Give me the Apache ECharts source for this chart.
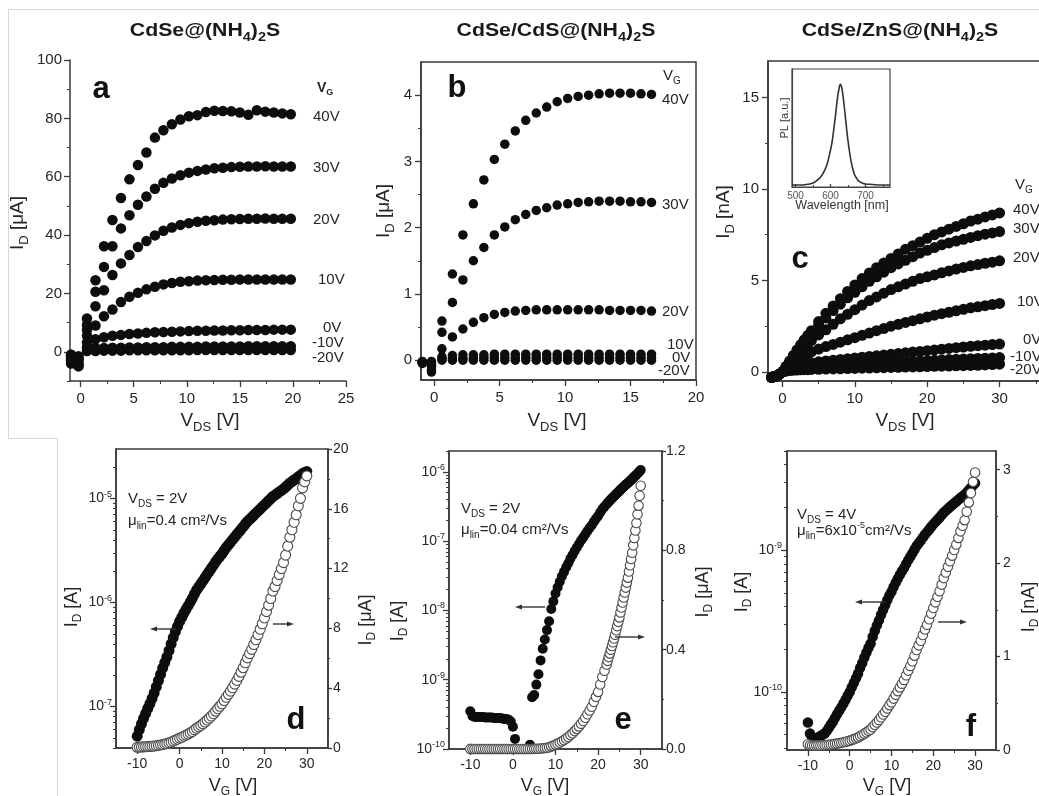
<!DOCTYPE html>
<html><head><meta charset="utf-8">
<script src="https://cdn.jsdelivr.net/npm/echarts@6/dist/echarts.min.js"></script>
<style>html,body{margin:0;padding:0;background:#fff}#c{width:1039px;height:796px}</style>
</head><body><div id="c"></div><script>
// ---------------- DATA ----------------
// Panel a: CdSe@(NH4)2S output curves, I_D [uA] vs V_DS [V]
const aVDS = [-0.9, -0.2, 0.6, 1.4, 2.2, 3.0, 3.8, 4.6, 5.4, 6.2, 7.0, 7.8, 8.6, 9.4, 10.2, 11.0, 11.8, 12.6, 13.4, 14.2, 15.0, 15.8, 16.6, 17.4, 18.2, 19.0, 19.8];
const aID_40 = [-1, -4, 11.4, 24.5, 36.2, 45.2, 52.7, 59.1, 64.0, 68.3, 73.4, 75.9, 78.0, 79.6, 80.7, 81.1, 82.2, 82.6, 82.5, 82.4, 82.0, 81.2, 82.8, 82.3, 82.0, 81.7, 81.4];
const aID_30 = [-2, -4.5, 9.2, 20.6, 29.1, 36.2, 42.3, 46.8, 50.4, 53.2, 55.9, 57.9, 59.4, 60.5, 61.4, 62.0, 62.5, 62.9, 63.1, 63.3, 63.4, 63.5, 63.5, 63.6, 63.5, 63.5, 63.5];
const aID_20 = [-2.5, -3, 7.5, 15.6, 21.1, 26.3, 30.3, 33.2, 35.9, 38.0, 39.9, 41.5, 42.6, 43.5, 44.1, 44.6, 44.9, 45.1, 45.3, 45.4, 45.5, 45.6, 45.6, 45.7, 45.6, 45.6, 45.6];
const aID_10 = [-1.5, -2, 5.5, 9.0, 12.2, 14.5, 17.1, 18.9, 20.2, 21.4, 22.3, 23.1, 23.6, 24.0, 24.2, 24.4, 24.5, 24.6, 24.7, 24.7, 24.8, 24.8, 24.8, 24.8, 24.8, 24.8, 24.8];
const aID_0 = [-1, -1.5, 3.2, 4.3, 5.0, 5.5, 5.8, 6.1, 6.3, 6.5, 6.7, 6.8, 6.9, 7.0, 7.1, 7.2, 7.2, 7.3, 7.3, 7.4, 7.4, 7.5, 7.5, 7.5, 7.6, 7.6, 7.6];
const aID_m10 = [-3, -2.5, 1.5, 1.3, 1.3, 1.4, 1.4, 1.5, 1.5, 1.6, 1.6, 1.6, 1.7, 1.7, 1.7, 1.7, 1.8, 1.8, 1.8, 1.8, 1.8, 1.9, 1.9, 1.9, 1.9, 1.9, 1.9];
const aID_m20 = [-4, -5, 0.3, 0.3, 0.4, 0.4, 0.4, 0.5, 0.5, 0.5, 0.5, 0.5, 0.5, 0.5, 0.5, 0.6, 0.6, 0.6, 0.6, 0.6, 0.6, 0.6, 0.6, 0.6, 0.6, 0.6, 0.6];
const aGateLabels = ['40V', '30V', '20V', '10V', '0V', '-10V', '-20V'];

// Panel b: CdSe/CdS@(NH4)2S, I_D [uA]
const bVDS = [-0.9, -0.2, 0.6, 1.4, 2.2, 3.0, 3.8, 4.6, 5.4, 6.2, 7.0, 7.8, 8.6, 9.4, 10.2, 11.0, 11.8, 12.6, 13.4, 14.2, 15.0, 15.8, 16.6];
const bID_40 = [-0.04, -0.18, 0.59, 1.30, 1.89, 2.36, 2.72, 3.03, 3.26, 3.46, 3.62, 3.73, 3.82, 3.90, 3.95, 3.98, 4.00, 4.02, 4.03, 4.03, 4.03, 4.02, 4.01];
const bID_30 = [-0.04, -0.15, 0.42, 0.87, 1.21, 1.50, 1.70, 1.89, 2.01, 2.12, 2.20, 2.26, 2.30, 2.34, 2.36, 2.38, 2.39, 2.40, 2.40, 2.40, 2.39, 2.39, 2.38];
const bID_20 = [-0.03, -0.10, 0.17, 0.35, 0.47, 0.57, 0.64, 0.69, 0.72, 0.74, 0.75, 0.76, 0.76, 0.76, 0.76, 0.76, 0.76, 0.76, 0.75, 0.75, 0.75, 0.75, 0.74];
const bID_10 = [-0.02, -0.05, 0.05, 0.07, 0.08, 0.08, 0.08, 0.09, 0.09, 0.09, 0.09, 0.09, 0.09, 0.09, 0.09, 0.09, 0.09, 0.09, 0.09, 0.09, 0.09, 0.09, 0.09];
const bID_0 = [-0.03, -0.08, 0.02, 0.03, 0.03, 0.03, 0.04, 0.04, 0.04, 0.04, 0.04, 0.04, 0.04, 0.04, 0.04, 0.04, 0.04, 0.04, 0.04, 0.04, 0.04, 0.04, 0.04];
const bID_m20 = [-0.05, -0.02, 0.0, 0.0, 0.0, 0.0, 0.0, 0.0, 0.0, 0.0, 0.0, 0.0, 0.0, 0.0, 0.0, 0.0, 0.0, 0.0, 0.0, 0.0, 0.0, 0.0, 0.0];
const bGateLabels = ['40V', '30V', '20V', '10V', '0V', '-20V'];

// Panel c: CdSe/ZnS@(NH4)2S, I_D [nA]
const cVDS = [-1.5, -1, -0.5, 0, 0.5, 1, 1.5, 2, 2.5, 3, 3.5, 4, 5, 6, 7, 8, 9, 10, 11, 12, 13, 14, 15, 16, 17, 18, 19, 20, 21, 22, 23, 24, 25, 26, 27, 28, 29, 30];
const cID_40 = [-0.3, -0.25, -0.15, 0, 0.3, 0.6, 0.9, 1.2, 1.48, 1.75, 2.0, 2.25, 2.75, 3.2, 3.6, 4.0, 4.4, 4.75, 5.1, 5.4, 5.7, 5.95, 6.2, 6.45, 6.7, 6.9, 7.1, 7.3, 7.5, 7.65, 7.8, 7.95, 8.1, 8.25, 8.35, 8.47, 8.58, 8.69];
const cID_30 = [-0.3, -0.25, -0.15, 0, 0.28, 0.55, 0.83, 1.1, 1.35, 1.6, 1.85, 2.1, 2.55, 2.95, 3.35, 3.7, 4.05, 4.35, 4.65, 4.95, 5.2, 5.45, 5.7, 5.9, 6.1, 6.3, 6.5, 6.65, 6.8, 6.95, 7.05, 7.15, 7.25, 7.35, 7.45, 7.53, 7.6, 7.67];
const cID_20 = [-0.3, -0.25, -0.15, 0, 0.25, 0.5, 0.72, 0.95, 1.15, 1.35, 1.55, 1.72, 2.02, 2.3, 2.6, 2.9, 3.15, 3.4, 3.65, 3.9, 4.1, 4.3, 4.5, 4.65, 4.8, 4.95, 5.1, 5.2, 5.3, 5.42, 5.52, 5.62, 5.71, 5.8, 5.87, 5.94, 6.0, 6.07];
const cID_10 = [-0.3, -0.25, -0.15, 0, 0.2, 0.38, 0.52, 0.65, 0.78, 0.9, 1.0, 1.1, 1.25, 1.38, 1.5, 1.62, 1.75, 1.87, 2.0, 2.12, 2.25, 2.37, 2.5, 2.6, 2.7, 2.8, 2.9, 3.0, 3.1, 3.18, 3.26, 3.34, 3.42, 3.5, 3.56, 3.62, 3.68, 3.74];
const cID_0 = [-0.3, -0.25, -0.15, 0, 0.12, 0.22, 0.3, 0.36, 0.41, 0.45, 0.48, 0.5, 0.55, 0.6, 0.64, 0.68, 0.72, 0.76, 0.8, 0.84, 0.88, 0.92, 0.96, 1.0, 1.04, 1.08, 1.12, 1.16, 1.2, 1.24, 1.28, 1.32, 1.36, 1.4, 1.43, 1.46, 1.49, 1.52];
const cID_m10 = [-0.3, -0.25, -0.15, 0, 0.08, 0.15, 0.2, 0.24, 0.27, 0.29, 0.31, 0.32, 0.34, 0.36, 0.38, 0.4, 0.42, 0.44, 0.45, 0.47, 0.49, 0.5, 0.52, 0.54, 0.56, 0.58, 0.6, 0.61, 0.63, 0.65, 0.67, 0.69, 0.7, 0.72, 0.73, 0.75, 0.76, 0.78];
const cID_m20 = [-0.3, -0.25, -0.15, 0, 0.04, 0.07, 0.09, 0.1, 0.11, 0.12, 0.12, 0.13, 0.14, 0.15, 0.16, 0.17, 0.18, 0.19, 0.2, 0.21, 0.22, 0.23, 0.24, 0.25, 0.26, 0.27, 0.28, 0.29, 0.3, 0.31, 0.32, 0.33, 0.34, 0.35, 0.36, 0.38, 0.4, 0.42];
const cGateLabels = ['40V', '30V', '20V', '10V', '0V', '-10V', '-20V'];

// Inset: PL spectrum
const plWavelength = [490, 500, 520, 540, 550, 560, 570, 580, 590, 600, 605, 610, 615, 620, 625, 628, 632, 636, 640, 645, 650, 655, 660, 665, 670, 680, 690, 700, 720, 740, 770];
const plIntensity = [0.02, 0.02, 0.02, 0.03, 0.04, 0.06, 0.09, 0.14, 0.22, 0.36, 0.45, 0.58, 0.72, 0.87, 0.97, 1.0, 0.97, 0.88, 0.76, 0.6, 0.45, 0.33, 0.23, 0.16, 0.11, 0.06, 0.04, 0.03, 0.025, 0.02, 0.02];

// Transfer curves (d, f): V_G [V]
const transferVG = [-10, -9.5, -9, -8.5, -8, -7.5, -7, -6.5, -6, -5.5, -5, -4.5, -4, -3.5, -3, -2.5, -2, -1.5, -1, -0.5, 0, 0.5, 1, 1.5, 2, 2.5, 3, 3.5, 4, 4.5, 5, 5.5, 6, 6.5, 7, 7.5, 8, 8.5, 9, 9.5, 10, 10.5, 11, 11.5, 12, 12.5, 13, 13.5, 14, 14.5, 15, 15.5, 16, 16.5, 17, 17.5, 18, 18.5, 19, 19.5, 20, 20.5, 21, 21.5, 22, 22.5, 23, 23.5, 24, 24.5, 25, 25.5, 26, 26.5, 27, 27.5, 28, 28.5, 29, 29.5, 30];
// d: I_D in microampere
const dID_uA = [0.052, 0.060, 0.068, 0.077, 0.086, 0.096, 0.107, 0.120, 0.135, 0.155, 0.178, 0.204, 0.234, 0.265, 0.30, 0.345, 0.40, 0.46, 0.525, 0.59, 0.66, 0.72, 0.79, 0.86, 0.93, 1.01, 1.10, 1.21, 1.32, 1.41, 1.51, 1.62, 1.74, 1.87, 2.00, 2.14, 2.29, 2.46, 2.63, 2.79, 2.95, 3.17, 3.39, 3.59, 3.80, 4.03, 4.27, 4.52, 4.79, 5.07, 5.37, 5.70, 6.03, 6.31, 6.60, 6.92, 7.24, 7.58, 7.94, 8.31, 8.70, 9.12, 9.55, 10.0, 10.5, 10.8, 11.2, 11.6, 12.0, 12.4, 12.9, 13.5, 14.1, 14.6, 15.1, 15.6, 16.2, 16.7, 17.4, 17.8, 18.2];
// e: V_G [V] (denser sweep above 22 V) and I_D in ampere
const eVG = [-10, -9.5, -9, -8.5, -8, -7.5, -7, -6.5, -6, -5.5, -5, -4.5, -4, -3.5, -3, -2.5, -2, -1.5, -1, -0.5, 0, 0.5, 1, 1.5, 2, 2.5, 3, 3.5, 4, 4.5, 5, 5.5, 6, 6.5, 7, 7.5, 8, 8.5, 9, 9.5, 10, 10.5, 11, 11.5, 12, 12.5, 13, 13.5, 14, 14.5, 15, 15.5, 16, 16.5, 17, 17.5, 18, 18.5, 19, 19.5, 20, 20.5, 21, 21.5, 22, 22.25, 22.5, 22.75, 23, 23.25, 23.5, 23.75, 24, 24.25, 24.5, 24.75, 25, 25.25, 25.5, 25.75, 26, 26.25, 26.5, 26.75, 27, 27.25, 27.5, 27.75, 28, 28.25, 28.5, 28.75, 29, 29.25, 29.5, 29.75, 30];
const eID_A = [3.5e-10, 3.0e-10, 2.9e-10, 2.9e-10, 2.9e-10, 2.9e-10, 2.9e-10, 2.85e-10, 2.85e-10, 2.85e-10, 2.85e-10, 2.8e-10, 2.8e-10, 2.8e-10, 2.8e-10, 2.75e-10, 2.7e-10, 2.7e-10, 2.65e-10, 2.5e-10, 2.1e-10, 1.4e-10, 8e-11, 7e-11, 7e-11, 7e-11, 7e-11, 8e-11, 1.15e-10, 5.6e-10, 6.0e-10, 8.5e-10, 1.2e-9, 1.9e-9, 2.8e-9, 3.8e-9, 5.2e-9, 7.0e-9, 1.05e-8, 1.35e-8, 1.75e-8, 2.15e-8, 2.6e-8, 3.1e-8, 3.6e-8, 4.2e-8, 4.8e-8, 5.6e-8, 6.3e-8, 7.2e-8, 8.1e-8, 9.1e-8, 1.02e-7, 1.13e-7, 1.26e-7, 1.4e-7, 1.55e-7, 1.7e-7, 1.9e-7, 2.1e-7, 2.3e-7, 2.6e-7, 2.9e-7, 3.15e-7, 3.4e-7, 3.55e-7, 3.7e-7, 3.85e-7, 4.0e-7, 4.15e-7, 4.3e-7, 4.45e-7, 4.6e-7, 4.78e-7, 4.95e-7, 5.12e-7, 5.3e-7, 5.5e-7, 5.7e-7, 5.9e-7, 6.1e-7, 6.3e-7, 6.5e-7, 6.7e-7, 6.9e-7, 7.15e-7, 7.4e-7, 7.65e-7, 7.9e-7, 8.2e-7, 8.5e-7, 8.8e-7, 9.1e-7, 9.45e-7, 9.8e-7, 1.02e-6, 1.06e-6];
// f: I_D in ampere
const fID_A = [6.1e-11, 5.1e-11, 4.8e-11, 4.7e-11, 4.7e-11, 4.8e-11, 4.9e-11, 5.0e-11, 5.1e-11, 5.3e-11, 5.6e-11, 5.9e-11, 6.2e-11, 6.6e-11, 7.0e-11, 7.4e-11, 7.8e-11, 8.3e-11, 8.8e-11, 9.4e-11, 1.0e-10, 1.08e-10, 1.16e-10, 1.25e-10, 1.35e-10, 1.48e-10, 1.6e-10, 1.75e-10, 1.9e-10, 2.05e-10, 2.2e-10, 2.45e-10, 2.7e-10, 2.95e-10, 3.2e-10, 3.5e-10, 3.8e-10, 4.1e-10, 4.45e-10, 4.8e-10, 5.1e-10, 5.5e-10, 5.9e-10, 6.3e-10, 6.7e-10, 7.1e-10, 7.5e-10, 8.0e-10, 8.5e-10, 9.0e-10, 9.5e-10, 1.01e-9, 1.07e-9, 1.12e-9, 1.17e-9, 1.23e-9, 1.29e-9, 1.34e-9, 1.4e-9, 1.46e-9, 1.52e-9, 1.58e-9, 1.64e-9, 1.7e-9, 1.77e-9, 1.84e-9, 1.9e-9, 1.96e-9, 2.02e-9, 2.08e-9, 2.14e-9, 2.2e-9, 2.27e-9, 2.34e-9, 2.4e-9, 2.46e-9, 2.55e-9, 2.65e-9, 2.75e-9, 2.87e-9, 2.97e-9];

// Tick values
const aXTicks = [0, 5, 10, 15, 20, 25];
const aYTicks = [0, 20, 40, 60, 80, 100];
const bXTicks = [0, 5, 10, 15, 20];
const bYTicks = [0, 1, 2, 3, 4];
const cXTicks = [0, 10, 20, 30];
const cYTicks = [0, 5, 10, 15];
const insetXTicks = [500, 600, 700];
const vgTicks = [-10, 0, 10, 20, 30];
const dLogTicks = [1e-7, 1e-6, 1e-5];
const dLinTicks = [0, 4, 8, 12, 16, 20];
const eLogTicks = [1e-10, 1e-9, 1e-8, 1e-7, 1e-6];
const eLinTicks = [0, 0.4, 0.8, 1.2];
const fLogTicks = [1e-10, 1e-9];
const fLinTicks = [0, 1, 2, 3];

// ---------------- STYLE / HELPERS ----------------
const FONT = '"Liberation Sans", Arial, Helvetica, sans-serif';
const TXT = '#262626';
const AX = '#3a3a3a';
const DOT = '#0d0d0d';

function logMinors(lo, hi) {
  const out = [];
  for (let e = -12; e <= -3; e++) {
    for (let k = 2; k <= 9; k++) {
      const v = k * Math.pow(10, e);
      if (v >= lo * 0.999 && v <= hi * 1.001) out.push(v);
    }
  }
  return out;
}
function richFor(fs, bold, color) {
  const sub = Math.round(fs * 0.66), sup = Math.round(fs * 0.6);
  return {
    s: { fontSize: sub, lineHeight: sub, verticalAlign: 'bottom', fontFamily: FONT, fontWeight: bold ? 'bold' : 'normal', fill: color, color: color },
    p: { fontSize: sup, lineHeight: sup, verticalAlign: 'top', fontFamily: FONT, fontWeight: bold ? 'bold' : 'normal', fill: color, color: color }
  };
}
const xAxis = [], yAxis = [];
function axis(list, o) {
  const common = { gridIndex: o.g, type: o.log ? 'log' : 'value', min: o.min, max: o.max, position: o.pos,
    splitLine: { show: false }, splitArea: { show: false }, axisPointer: { show: false }, silent: true };
  if (o.log) common.logBase = 10;
  const lc = o.lc || AX;
  list.push(Object.assign({}, common, {
    axisLine: { show: o.line !== false, onZero: false, lineStyle: { color: lc, width: o.lw || 1.5 } },
    axisTick: { show: true, inside: !!o.inside, length: o.tl || 6, customValues: o.major, lineStyle: { color: lc, width: 1.3 } },
    axisLabel: { show: true, customValues: o.major, formatter: o.fmt, color: o.tc || TXT, fontSize: o.fs || 15, fontFamily: FONT,
      margin: o.margin == null ? 8 : o.margin, rich: o.rich, lineHeight: o.lh, hideOverlap: false }
  }));
  const idx = list.length - 1;
  if (o.minor) {
    list.push(Object.assign({}, common, {
      axisLine: { show: false, onZero: false },
      axisTick: { show: true, inside: !!o.inside, length: o.mtl || 3, customValues: o.minor, lineStyle: { color: lc, width: 1 } },
      axisLabel: { show: false }
    }));
  }
  return idx;
}
const logFmt = v => '10{p|' + Math.round(Math.log10(v)) + '}';
const logRich = { p: { fontSize: 9, lineHeight: 9, verticalAlign: 'top', fontFamily: FONT, color: TXT } };

// axes per panel
const ax = {};
ax.aX = axis(xAxis, { g: 0, min: -1, max: 25, pos: 'bottom', major: aXTicks, minor: [2.5, 7.5, 12.5, 17.5, 22.5], margin: 10 });
ax.aY = axis(yAxis, { g: 0, min: -10, max: 100, pos: 'left', major: aYTicks, minor: [-10, 10, 30, 50, 70, 90], margin: 8 });
ax.bX = axis(xAxis, { g: 1, min: -1, max: 20, pos: 'bottom', major: bXTicks, minor: [2.5, 7.5, 12.5, 17.5], margin: 10 });
ax.bY = axis(yAxis, { g: 1, min: -0.3, max: 4.5, pos: 'left', major: bYTicks, minor: [0.5, 1.5, 2.5, 3.5], margin: 9 });
ax.cX = axis(xAxis, { g: 2, min: -2, max: 36, pos: 'bottom', major: cXTicks, minor: [5, 15, 25, 35], margin: 10 });
ax.cY = axis(yAxis, { g: 2, min: -0.5, max: 17, pos: 'left', major: cYTicks, minor: [2.5, 7.5, 12.5], margin: 9 });
ax.iX = axis(xAxis, { g: 3, min: 490, max: 770, pos: 'bottom', major: insetXTicks, minor: [550, 650, 750], inside: true, tl: 3, mtl: 2, fs: 10, tc: '#555', margin: 4, lw: 1.2, lc: '#444' });
ax.iY = axis(yAxis, { g: 3, min: 0, max: 1.15, pos: 'left', major: [], lw: 1.2, lc: '#444' });
ax.dX = axis(xAxis, { g: 4, min: -15, max: 35, pos: 'bottom', major: vgTicks, minor: [-5, 5, 15, 25], margin: 9, fs: 14 });
ax.dYL = axis(yAxis, { g: 4, log: true, min: 4e-8, max: 3e-5, pos: 'left', major: dLogTicks, minor: logMinors(4e-8, 3e-5), fmt: logFmt, rich: logRich, lh: 18, margin: 4, fs: 14 });
ax.dYR = axis(yAxis, { g: 4, min: 0, max: 20, pos: 'right', major: dLinTicks, minor: [2, 6, 10, 14, 18], margin: 5, fs: 14, tl: 4, mtl: 2 });
ax.eX = axis(xAxis, { g: 5, min: -15, max: 35, pos: 'bottom', major: vgTicks, minor: [-5, 5, 15, 25], margin: 9, fs: 14 });
ax.eYL = axis(yAxis, { g: 5, log: true, min: 1e-10, max: 2e-6, pos: 'left', major: eLogTicks, minor: logMinors(1e-10, 2e-6), fmt: logFmt, rich: logRich, lh: 18, margin: 4, fs: 14 });
ax.eYR = axis(yAxis, { g: 5, min: 0, max: 1.2, pos: 'right', major: eLinTicks, minor: [0.2, 0.6, 1.0], margin: 4, fs: 14, fmt: v => v.toFixed(1), tl: 4, mtl: 2 });
ax.fX = axis(xAxis, { g: 6, min: -15, max: 35, pos: 'bottom', major: vgTicks, minor: [-5, 5, 15, 25], margin: 9, fs: 14 });
ax.fYL = axis(yAxis, { g: 6, log: true, min: 3.9e-11, max: 5e-9, pos: 'left', major: fLogTicks, minor: logMinors(3.9e-11, 5e-9), fmt: logFmt, rich: logRich, lh: 18, margin: 5, fs: 14 });
ax.fYR = axis(yAxis, { g: 6, min: 0, max: 3.2, pos: 'right', major: fLinTicks, minor: [0.5, 1.5, 2.5], margin: 7, fs: 14, tl: 4, mtl: 2 });

// series
const series = [];
function scat(xi, yi, xs, ys, size, open) {
  series.push({
    type: 'scatter', xAxisIndex: xi, yAxisIndex: yi, symbol: 'circle', symbolSize: size, silent: true, clip: true,
    data: xs.map((x, i) => [x, ys[i]]),
    itemStyle: open ? { color: '#ffffff', borderColor: '#4a4a4a', borderWidth: 1.1, opacity: 1 } : { color: DOT, opacity: 1 },
    emphasis: { disabled: true }
  });
}
[aID_m20, aID_m10, aID_0, aID_10, aID_20, aID_30, aID_40].forEach(s => scat(ax.aX, ax.aY, aVDS, s, 10.5));
[bID_m20, bID_0, bID_10, bID_20, bID_30, bID_40].forEach(s => scat(ax.bX, ax.bY, bVDS, s, 9.5));
[cID_m20, cID_m10, cID_0, cID_10, cID_20, cID_30, cID_40].forEach(s => scat(ax.cX, ax.cY, cVDS, s, 11));
series.push({ type: 'line', xAxisIndex: ax.iX, yAxisIndex: ax.iY, data: plWavelength.map((w, i) => [w, plIntensity[i]]),
  smooth: 0.4, showSymbol: false, silent: true, lineStyle: { color: '#333', width: 1.6 } });
// d
scat(ax.dX, ax.dYL, transferVG, dID_uA.map(v => v * 1e-6), 11);
scat(ax.dX, ax.dYR, transferVG, dID_uA, 10, true);
// e
scat(ax.eX, ax.eYL, eVG, eID_A, 10);
scat(ax.eX, ax.eYR, eVG, eID_A.map(v => v * 1e6), 9.5, true);
// f
scat(ax.fX, ax.fYL, transferVG, fID_A, 10.5);
scat(ax.fX, ax.fYR, transferVG, fID_A.map(v => v * 1e9), 9.5, true);

// ---------------- TEXT / ANNOTATIONS ----------------
function txt(text, x, y, o) {
  o = o || {};
  const fs = o.fs || 15, color = o.color || TXT, bold = o.fw === 'bold';
  return { type: 'text', x: x, y: y, rotation: o.rot || 0, scaleX: o.sx || 1, z: 50, silent: true,
    style: { text: text, fill: color, fontSize: fs, fontFamily: FONT, fontWeight: bold ? 'bold' : 'normal',
      align: o.align || 'center', verticalAlign: 'middle', textAlign: o.align || 'center', textVerticalAlign: 'middle',
      lineHeight: Math.round(fs * 1.3), rich: richFor(fs, bold, color) } };
}
function arrow(x1, x2, y) {
  const d = x2 > x1 ? 1 : -1;
  return [
    { type: 'line', z: 50, silent: true, shape: { x1: x1, y1: y, x2: x2 - d * 3, y2: y }, style: { stroke: '#333', lineWidth: 1.4 } },
    { type: 'polygon', z: 50, silent: true, shape: { points: [[x2, y], [x2 - d * 7, y - 2.5], [x2 - d * 7, y + 2.5]] }, style: { fill: '#333' } }
  ];
}
const R90 = Math.PI / 2;
const graphic = [
  { type: 'polyline', silent: true, z: 0, shape: { points: [[1039, 9.5], [8.5, 9.5], [8.5, 438.5], [57.5, 438.5], [57.5, 796]] }, style: { stroke: '#d6d6d6', lineWidth: 1, fill: null } },
  // titles
  txt('CdSe@(NH{s|4}){s|2}S', 205, 31, { fs: 19, fw: 'bold', sx: 1.12, color: '#1a1a1a' }),
  txt('CdSe/CdS@(NH{s|4}){s|2}S', 556, 31, { fs: 19, fw: 'bold', sx: 1.12, color: '#1a1a1a' }),
  txt('CdSe/ZnS@(NH{s|4}){s|2}S', 900, 31, { fs: 19, fw: 'bold', sx: 1.12, color: '#1a1a1a' }),
  // panel letters
  txt('a', 101, 89, { fs: 31, fw: 'bold', color: '#111' }),
  txt('b', 457, 88, { fs: 31, fw: 'bold', color: '#111' }),
  txt('c', 800, 259, { fs: 31, fw: 'bold', color: '#111' }),
  txt('d', 296, 720, { fs: 31, fw: 'bold', color: '#111' }),
  txt('e', 623, 720, { fs: 31, fw: 'bold', color: '#111' }),
  txt('f', 971, 727, { fs: 31, fw: 'bold', color: '#111' }),
  // axis titles (top row)
  txt('I{s|D} [μA]', 18, 223, { fs: 19, rot: R90 }),
  txt('V{s|DS} [V]', 210, 421, { fs: 19 }),
  txt('I{s|D} [μA]', 384, 211, { fs: 19, rot: R90 }),
  txt('V{s|DS} [V]', 557, 421, { fs: 19 }),
  txt('I{s|D} [nA]', 724, 212, { fs: 19, rot: R90 }),
  txt('V{s|DS} [V]', 905, 421, { fs: 19 }),
  // inset titles
  txt('PL [a.u.]', 785, 118, { fs: 11, rot: R90, color: '#333' }),
  txt('Wavelength [nm]', 842, 206, { fs: 12.5, color: '#333' }),
  // axis titles (bottom row)
  txt('I{s|D} [A]', 72, 607, { fs: 18, rot: R90 }),
  txt('I{s|D} [μA]', 366, 620, { fs: 18, rot: R90 }),
  txt('V{s|G} [V]', 233, 786, { fs: 18 }),
  txt('I{s|D} [A]', 398, 621, { fs: 18, rot: R90 }),
  txt('I{s|D} [μA]', 703, 592, { fs: 18, rot: R90 }),
  txt('V{s|G} [V]', 545, 786, { fs: 18 }),
  txt('I{s|D} [A]', 742, 592, { fs: 18, rot: R90 }),
  txt('I{s|D} [nA]', 1029, 607, { fs: 18, rot: R90 }),
  txt('V{s|G} [V]', 887, 786, { fs: 18 }),
  // annotations
  txt('V{s|DS} = 2V', 128, 499, { fs: 15, align: 'left' }),
  txt('μ{s|lin}=0.4 cm²/Vs', 128, 521, { fs: 15, align: 'left' }),
  txt('V{s|DS} = 2V', 461, 509, { fs: 15, align: 'left' }),
  txt('μ{s|lin}=0.04 cm²/Vs', 461, 530, { fs: 15, align: 'left' }),
  txt('V{s|DS} = 4V', 797, 515, { fs: 15, align: 'left' }),
  txt('μ{s|lin}=6x10{p|-5}cm²/Vs', 797, 531, { fs: 15, align: 'left' }),
  // gate labels a
  txt('V{s|G}', 317, 88, { fs: 14, fw: 'bold', align: 'left' })
].concat(
  [[117, 313], [168, 313], [220, 313], [280, 318], [328, 323], [343, 312], [358, 312]].map((p, i) => txt(aGateLabels[i], p[1], p[0], { fs: 15, align: 'left' })),
  [txt('V{s|G}', 663, 76, { fs: 15, align: 'left' })],
  [[100, 662], [205, 662], [312, 662], [345, 667], [358, 672], [371, 658]].map((p, i) => txt(bGateLabels[i], p[1], p[0], { fs: 15, align: 'left' })),
  [txt('V{s|G}', 1015, 185, { fs: 15, align: 'left' })],
  [[210, 1013], [229, 1013], [258, 1013], [302, 1017], [340, 1023], [357, 1010], [370, 1010]].map((p, i) => txt(cGateLabels[i], p[1], p[0], { fs: 15, align: 'left' })),
  arrow(176, 150, 629), arrow(273, 294, 624),
  arrow(545, 515, 607), arrow(615, 645, 637),
  arrow(885, 855, 602), arrow(938, 967, 622)
);

const gridBase = { show: true, borderColor: AX, borderWidth: 1.5, backgroundColor: 'transparent', outerBoundsMode: 'none', containLabel: false };
const option = {
  animation: false,
  backgroundColor: '#ffffff',
  textStyle: { fontFamily: FONT },
  grid: [
    Object.assign({}, gridBase, { left: 70, top: 60, width: 276, height: 321, show: false }),
    Object.assign({}, gridBase, { left: 421, top: 62, width: 275, height: 318 }),
    Object.assign({}, gridBase, { left: 768, top: 61, width: 275, height: 320 }),
    Object.assign({}, gridBase, { left: 792, top: 69, width: 98, height: 118, borderColor: '#444', borderWidth: 1.2, backgroundColor: '#fff' }),
    Object.assign({}, gridBase, { left: 116, top: 449, width: 212, height: 299 }),
    Object.assign({}, gridBase, { left: 449, top: 451, width: 213, height: 298 }),
    Object.assign({}, gridBase, { left: 787, top: 451, width: 209, height: 299 })
  ],
  xAxis: xAxis,
  yAxis: yAxis,
  series: series,
  graphic: graphic
};
const chart = echarts.init(document.getElementById('c'), null, { renderer: 'canvas' });
chart.setOption(option);
</script></body></html>
